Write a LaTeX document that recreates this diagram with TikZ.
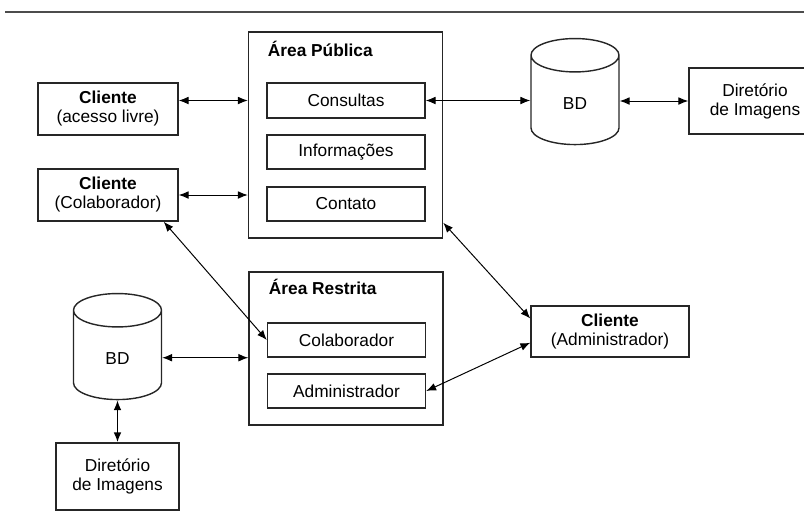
\documentclass[tikz,border=0pt]{standalone}
\usepackage{fontspec}
\setmainfont{Liberation Sans}
\usetikzlibrary{arrows.meta,shapes.geometric}

\begin{document}
\begin{tikzpicture}[x=0.025cm, y=-0.025cm]
% Node styles ---
\tikzstyle{caixa} = [rectangle, draw = black!85, line width = 1pt, inner sep = 0pt, align = center, font = \fontsize{12.3}{13.5}\selectfont] % Boxes
\tikzstyle{area} = [caixa, minimum width = 4.85cm] % Areas of the site
\tikzstyle{sub} = [caixa, minimum width = 3.95cm, minimum height = 0.85cm] % Pages inside an area
\tikzstyle{cli} = [caixa, minimum width = 3.5cm, minimum height = 1.3cm] % Clients
\tikzstyle{bd} = [cylinder, shape border rotate = 90, aspect = 1.0, draw = black!85, line width = 1pt, minimum width = 2.2cm, minimum height = 2.65cm, font = \fontsize{12.3}{13.5}\selectfont] % Databases
\tikzstyle{titulo} = [anchor = base west, font = \fontsize{12.3}{13.5}\selectfont\bfseries] % Area titles
% Edge styles
\tikzstyle{con} = [{Latex[length = 7pt, width = 5.5pt]}-{Latex[length = 7pt, width = 5.5pt]}, line width = 0.7pt] % Links
% Begin Figure ---
\useasboundingbox (0,0) rectangle (804,516);
\draw [black!70, line width = 1.2pt] (5,12) -- (804,12);
% Nodes
\node at (345.5,135) [area, minimum height = 5.15cm] (pub) {};
\node at (263,56) [titulo] (pubt) {Área Pública};
\node at (346,100.5) [sub, minimum height = 0.875cm] (consultas) {Consultas};
\node at (346,152) [sub] (info) {Informações};
\node at (346,204) [sub] (contato) {Contato};
\node at (108,109) [cli] (cliLivre) {\textbf{Cliente}\\(acesso livre)};
\node at (108,195) [cli] (cliColab) {\textbf{Cliente}\\(Colaborador)};
\node at (575,104) [bd] (bd1) {BD};
\node at (755,101) [caixa, minimum width = 3.3cm, minimum height = 1.65cm] (dir1) {Diretório\\de Imagens};
\node at (346,348.5) [area, minimum height = 3.825cm] (pr) {};
\node at (264,294) [titulo] (prt) {Área Restrita};
\node at (346.5,340) [sub] (colab) {Colaborador};
\node at (346.5,391) [sub] (admin) {Administrador};
\node at (117.5,359) [bd] (bd2) {BD};
\node at (117.5,476.5) [caixa, minimum width = 3.075cm, minimum height = 1.675cm] (dir2) {Diretório\\de Imagens};
\node at (610,331.5) [cli, minimum width = 3.95cm, minimum height = 1.275cm] (cliAdmin) {\textbf{Cliente}\\(Administrador)};
% Paths
\draw [con] (cliLivre.east |- consultas) -- (pub.west |- consultas);
\draw [con] (cliColab.east) -- (pub.west |- cliColab.east);
\draw [con] (consultas.east) -- (bd1.west |- consultas);
\draw [con] (bd1.east |- dir1) -- (dir1.west);
\draw [con] ([yshift = 0.4cm]pub.south east) -- ([yshift = -0.33cm]cliAdmin.north west);
\draw [con] (admin.east) -- ([yshift = 0.375cm]cliAdmin.south west);
\draw [con] ([xshift = -0.375cm]cliColab.south east) -- (colab.west);
\draw [con] (bd2.east |- colab.south) -- (pr.west |- colab.south);
\draw [con, line width = 1.1pt] (bd2.south) -- (dir2.north);
\end{tikzpicture}
\end{document}
